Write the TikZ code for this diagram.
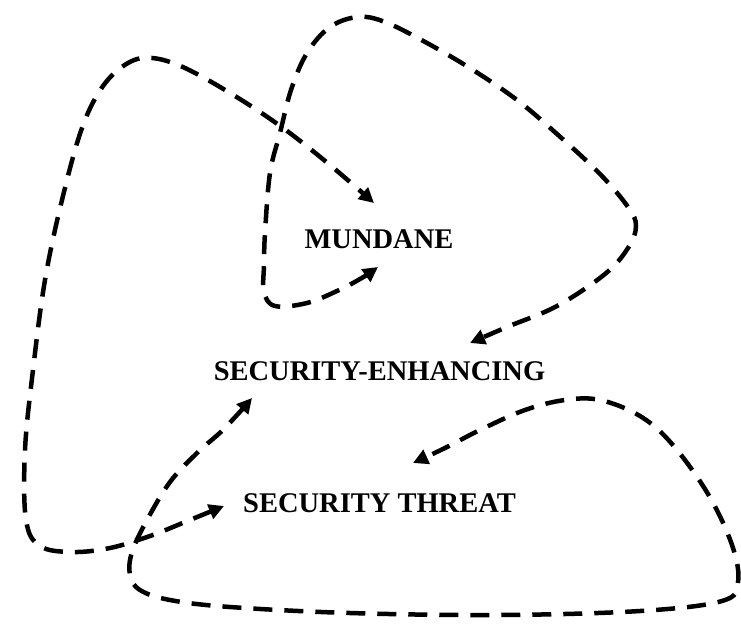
\documentclass[tikz,border=0pt]{standalone}
\usepackage{fontspec}
\setmainfont{Liberation Serif}
\usetikzlibrary{arrows.meta}
\begin{document}
\begin{tikzpicture}[x=1pt,y=-1pt,
  lbl/.style={font=\fontsize{28.5}{30}\selectfont\bfseries, anchor=base, inner sep=0pt},
  flow/.style={line width=4.5pt, dash pattern=on 19pt off 12pt, line join=round,
    {Triangle[length=15pt,width=15pt]}-{Triangle[length=15pt,width=15pt]}}]
\useasboundingbox (0,0) rectangle (741,635);
\node[lbl] (mun) at (379,248) {MUNDANE};
\node[lbl] (enh) at (379.5,380) {SECURITY-ENHANCING};
\node[lbl] (thr) at (379.5,512) {SECURITY THREAT};
% arrow tip coordinates
\coordinate (m1) at (374,203);
\coordinate (m2) at (378,267);
\coordinate (e1) at (470,343);
\coordinate (e2) at (252,398);
\coordinate (t1) at (224,506);
\coordinate (t2) at (413,463);
% left loop: threat <-> mundane
\draw[flow] plot[smooth, tension=0.6] coordinates {(t1) (185,522) (150,536) (110,548) (72,552) (40,546) (26,520) (25,450) (33,370) (45,280) (62,200) (82,128) (103,86) (128,63) (152,58) (185,68) (235,96) (283,128) (330,165) (m1)};
% mundane <-> enhancing loop
\draw[flow] plot[smooth, tension=0.6] coordinates {(m2) (360,279) (337,291) (307,303) (275,306) (264,292) (264,265) (265,233) (270,173) (280,133) (291,90) (307,53) (330,27) (358,17) (385,22) (427,43) (473,70) (517,100) (557,134) (600,174) (628,207) (636,226) (628,248) (605,274) (557,306) (507,327) (e1)};
% bottom loop: enhancing <-> threat
\draw[flow] plot[smooth, tension=0.6] coordinates {(e2) (225,428) (197,453) (170,482) (147,520) (132,552) (130,575) (140,590) (170,600) (230,607) (350,613) (500,615) (640,611) (722,601) (738,582) (732,545) (708,494) (672,444) (640,416) (600,400) (565,400) (525,410) (480,430) (445,448) (t2)};
\end{tikzpicture}
\end{document}
